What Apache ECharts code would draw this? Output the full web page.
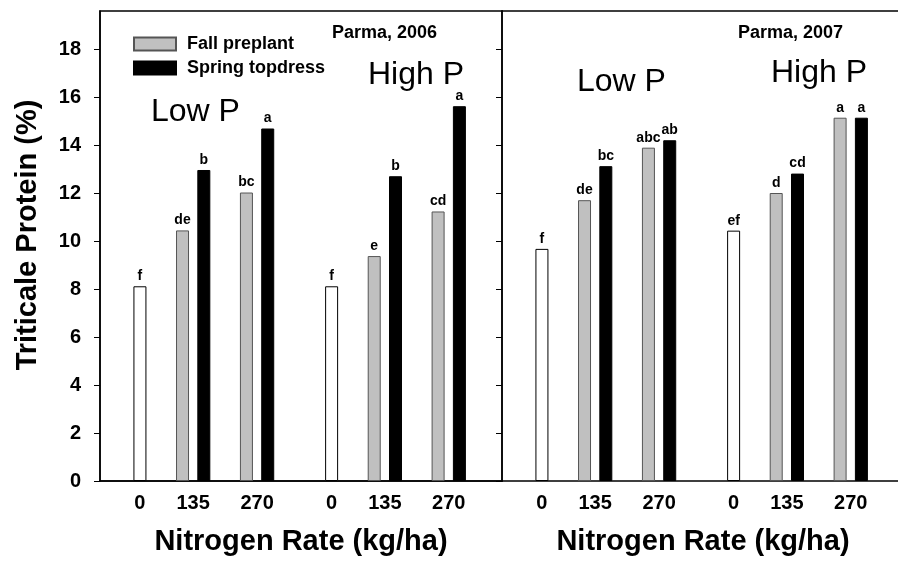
<!DOCTYPE html>
<html><head><meta charset="utf-8">
<script src="https://cdn.jsdelivr.net/npm/echarts@6/dist/echarts.min.js"></script>
<style>html,body{margin:0;padding:0;background:#fff}#c{width:898px;height:565px}</style>
</head><body><div id="c"></div>
<script>
// ---------- data ----------
const years = ['Parma, 2006', 'Parma, 2007'];
const pLevels = ['Low P', 'High P'];
const rateLabels = ['0', '135', '270'];
const seriesNames = ['Fall preplant', 'Spring topdress'];
const yTicks = [0, 2, 4, 6, 8, 10, 12, 14, 16, 18];
// control (0 kg/ha): [Low P, High P]
const control2006 = [8.12, 8.12];
const controlLetters2006 = ['f', 'f'];
const control2007 = [9.68, 10.44];
const controlLetters2007 = ['f', 'ef'];
// N treatments: [Low P 135, Low P 270, High P 135, High P 270]
const fall2006 = [10.45, 12.03, 9.38, 11.24];
const fallLetters2006 = ['de', 'bc', 'e', 'cd'];
const spring2006 = [12.97, 14.70, 12.71, 15.63];
const springLetters2006 = ['b', 'a', 'b', 'a'];
const fall2007 = [11.71, 13.90, 12.01, 15.15];
const fallLetters2007 = ['de', 'abc', 'd', 'a'];
const spring2007 = [13.13, 14.21, 12.82, 15.15];
const springLetters2007 = ['bc', 'ab', 'cd', 'a'];

// ---------- layout helpers ----------
const FONT = 'Liberation Sans, Arial, Helvetica, sans-serif';
function groupCenter(p, r) { return p * 9 + r * 3 - (r > 0 ? 0.5 : 0); }
const labelCenters = [];
const labelText = {};
for (let p = 0; p < 2; p++) for (let r = 0; r < 3; r++) {
  const c = groupCenter(p, r);
  labelCenters.push(c);
  labelText[c.toFixed(2)] = rateLabels[r];
}
function controlData(vals) { return vals.map((v, p) => [groupCenter(p, 0), v]); }
function treatData(vals, side) {
  return vals.map((v, i) => {
    const p = Math.floor(i / 2), r = (i % 2) + 1;
    return [groupCenter(p, r) + side * 0.5, v];
  });
}

const panels = [
  { control: control2006, cL: controlLetters2006, fall: fall2006, fL: fallLetters2006, spring: spring2006, sL: springLetters2006 },
  { control: control2007, cL: controlLetters2007, fall: fall2007, fL: fallLetters2007, spring: spring2007, sL: springLetters2007 }
];

const X_MIN = -1.875, X_MAX = 17, PANEL_W = 402;
const unitPx = PANEL_W / (X_MAX - X_MIN);
const panelWidths = [PANEL_W, 440]; // right panel runs past the canvas edge (cropped in original)

const grids = [], xAxes = [], yAxes = [], series = [];
panels.forEach((pn, k) => {
  const w = panelWidths[k];
  grids.push({ left: 100 + PANEL_W * k, top: 11, width: w, height: 470, show: k === 0,
    outerBoundsMode: 'none', containLabel: false,
    borderColor: '#000', borderWidth: 1.5, backgroundColor: 'transparent' });
  xAxes.push({
    type: 'value', gridIndex: k, min: X_MIN, max: X_MIN + w / unitPx,
    splitLine: { show: false },
    axisLine: { show: true, onZero: false, lineStyle: { color: '#000', width: 1.5 } },
    axisTick: { show: false },
    axisLabel: { customValues: labelCenters, margin: 12, color: '#000', fontFamily: FONT,
      fontWeight: 'bold', fontSize: 20, formatter: v => labelText[(+v).toFixed(2)] || '' },
    name: 'Nitrogen Rate (kg/ha)', nameLocation: 'middle', nameGap: 46,
    nameTextStyle: { color: '#000', fontFamily: FONT, fontWeight: 'bold', fontSize: 29,
      padding: k === 1 ? [0, (w - PANEL_W), 0, 0] : 0 }
  });
  yAxes.push({
    type: 'value', gridIndex: k, min: 0, max: 19.6, interval: 2,
    splitLine: { show: false },
    axisLine: { show: true, onZero: false, lineStyle: { color: '#000', width: 1.5 } },
    axisTick: { show: true, length: 6, customValues: yTicks, lineStyle: { color: '#000', width: 1 } },
    axisLabel: { show: k === 0, customValues: yTicks, margin: 19, color: '#000',
      fontFamily: FONT, fontWeight: 'bold', fontSize: 20 },
    name: k === 0 ? 'Triticale Protein (%)' : '', nameLocation: 'middle', nameGap: 58,
    nameTextStyle: { color: '#000', fontFamily: FONT, fontWeight: 'bold', fontSize: 29, padding: [0, 0, 0, 22] }
  });
  const lbl = letters => ({ show: true, position: 'top', distance: 3, color: '#000',
    fontFamily: FONT, fontWeight: 'bold', fontSize: 14, formatter: p => letters[p.dataIndex] });
  series.push({ name: 'Control', type: 'bar', xAxisIndex: k, yAxisIndex: k, barWidth: 13, barGap: '-100%',
    data: controlData(pn.control), itemStyle: { color: '#fff', borderColor: '#000', borderWidth: 1 },
    label: lbl(pn.cL) });
  series.push({ name: seriesNames[0], type: 'bar', xAxisIndex: k, yAxisIndex: k, barWidth: 13, barGap: '-100%',
    data: treatData(pn.fall, -1), itemStyle: { color: '#c0c0c0', borderColor: '#555', borderWidth: 1 },
    label: lbl(pn.fL) });
  series.push({ name: seriesNames[1], type: 'bar', xAxisIndex: k, yAxisIndex: k, barWidth: 13, barGap: '-100%',
    data: treatData(pn.spring, 1), itemStyle: { color: '#000', borderColor: '#000', borderWidth: 1 },
    label: lbl(pn.sL) });
});
// top frame line of the right panel (its right edge is cropped in the original)
xAxes.push({ type: 'value', gridIndex: 1, position: 'top', min: 0, max: 1,
  axisLine: { show: true, onZero: false, lineStyle: { color: '#000', width: 1.5 } },
  axisTick: { show: false }, axisLabel: { show: false }, splitLine: { show: false } });

const txt = (x, y, text, size, bold) => ({ type: 'text', x, y, style: { text, fill: '#000',
  font: (bold ? 'bold ' : '') + size + 'px ' + FONT, textAlign: 'left', textVerticalAlign: 'middle' } });

const chart = echarts.init(document.getElementById('c'), null, { renderer: 'canvas' });
chart.setOption({
  animation: false,
  backgroundColor: '#fff',
  grid: grids, xAxis: xAxes, yAxis: yAxes, series,
  legend: {
    data: seriesNames, orient: 'vertical', left: 128, top: 30, itemWidth: 42, itemHeight: 13, itemGap: 6,
    icon: 'rect', selectedMode: false,
    textStyle: { color: '#000', fontFamily: FONT, fontWeight: 'bold', fontSize: 18, padding: [0, 0, 0, 6] }
  },
  graphic: [
    txt(151, 112, pLevels[0], 32, false),
    txt(368, 75, pLevels[1], 32, false),
    txt(577, 82, pLevels[0], 32, false),
    txt(771, 73, pLevels[1], 32, false),
    txt(332, 33, years[0], 18, true),
    txt(738, 33, years[1], 18, true)
  ]
});
</script></body></html>
